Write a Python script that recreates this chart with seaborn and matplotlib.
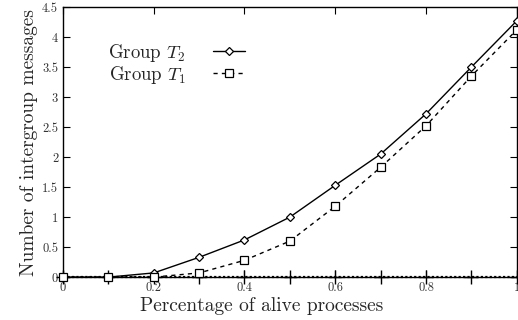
import matplotlib
matplotlib.use("Agg")
import matplotlib.pyplot as plt
import seaborn as sns
import pandas as pd

x = [0.0, 0.1, 0.2, 0.3, 0.4, 0.5, 0.6, 0.7, 0.8, 0.9, 1.0]
t2 = [0.0, 0.0, 0.07, 0.33, 0.62, 1.0, 1.53, 2.05, 2.72, 3.5, 4.27]
t1 = [0.0, 0.0, 0.0, 0.07, 0.28, 0.6, 1.18, 1.83, 2.52, 3.35, 4.12]
base = [0.0] * len(x)
xticks = [0, 0.2, 0.4, 0.6, 0.8, 1]
xticklabels = ["0", "0.2", "0.4", "0.6", "0.8", "1"]
yticks = [0, 0.5, 1, 1.5, 2, 2.5, 3, 3.5, 4, 4.5]
yticklabels = ["0", "0.5", "1", "1.5", "2", "2.5", "3", "3.5", "4", "4.5"]

sns.set_style("ticks")
plt.rcParams["font.family"] = ["cmr10", "DejaVu Serif"]
plt.rcParams["mathtext.fontset"] = "cm"
plt.rcParams["axes.formatter.use_mathtext"] = True

fig = plt.figure(figsize=(5.18, 3.2), dpi=100)
ax = fig.add_axes([0.1216, 0.134, 0.876, 0.844])

df = pd.DataFrame({"x": x, "t2": t2, "t1": t1, "base": base})
sns.lineplot(data=df, x="x", y="base", ax=ax, color="black", lw=1.6, marker="+",
             markersize=10, markeredgewidth=1.0, markeredgecolor="black",
             linestyle=(0, (1, 1)), legend=False, clip_on=False, zorder=5)
sns.lineplot(data=df, x="x", y="t2", ax=ax, color="black", lw=1.0, marker="D",
             markersize=3.8, markerfacecolor="white", markeredgecolor="black",
             markeredgewidth=0.9, label=r"Group $T_2$", clip_on=False, zorder=6)
sns.lineplot(data=df, x="x", y="t1", ax=ax, color="black", lw=1.0, marker="s",
             markersize=5.2, markerfacecolor="white", markeredgecolor="black",
             markeredgewidth=0.9, label=r"Group $T_1$", clip_on=False, zorder=6)
ax.lines[-1].set_dashes([3, 3])

ax.set_xlim(0, 1)
ax.set_ylim(0, 4.5)
ax.set_xticks(xticks)
ax.set_xticklabels(xticklabels)
ax.set_yticks(yticks)
ax.set_yticklabels(yticklabels)
ax.tick_params(axis="both", direction="in", length=5, width=0.8, labelsize=9,
               top=True, right=True, colors="black", labelcolor="#333333")
for s in ax.spines.values():
    s.set_linewidth(1.0)
    s.set_color("black")
ax.set_xlabel("Percentage of alive processes", fontsize=14, labelpad=0)
ax.xaxis.set_label_coords(0.438, -0.075)
ax.set_ylabel("Number of intergroup messages", fontsize=14, labelpad=3)

leg = ax.legend(loc="upper left", bbox_to_anchor=(0.083, 0.90), frameon=False,
                markerfirst=False, fontsize=13.5, handlelength=1.75,
                labelspacing=0.0, handletextpad=1.45, borderaxespad=0)
fig.savefig("out.png", dpi=100)
